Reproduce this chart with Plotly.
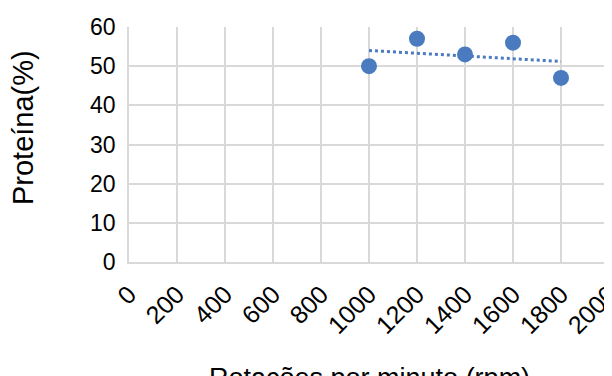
import numpy as np
import plotly.graph_objects as go

rpm = [1000, 1200, 1400, 1600, 1800]
proteina = [50, 57, 53, 56, 47]
x_ticks = [0, 200, 400, 600, 800, 1000, 1200, 1400, 1600, 1800, 2000]
y_ticks = [0, 10, 20, 30, 40, 50, 60]

blue = "#4a7bbf"
grid = "#d9d9d9"

slope, intercept = np.polyfit(rpm, proteina, 1)
trend_x = [min(rpm), max(rpm)]
trend_y = [slope * v + intercept for v in trend_x]

fig = go.Figure()
fig.add_trace(go.Scatter(x=trend_x, y=trend_y, mode="lines",
                         line=dict(color=blue, width=3, dash="dot"),
                         showlegend=False, hoverinfo="skip"))
fig.add_trace(go.Scatter(x=rpm, y=proteina, mode="markers",
                         marker=dict(color=blue, size=16),
                         showlegend=False))

font = "Liberation Sans, Arial, sans-serif"
fig.update_layout(
    width=604, height=368,
    margin=dict(l=121, r=3, t=19, b=114),
    paper_bgcolor="white", plot_bgcolor="white",
    font=dict(family=font, size=20, color="#000000"),
    xaxis=dict(range=[0, 2000], tickvals=x_ticks, ticktext=[str(v) for v in x_ticks],
               tickangle=-45, showgrid=True, gridcolor=grid, gridwidth=1.5,
               showline=True, linecolor=grid, linewidth=1.5, zeroline=False,
               ticks="", ticklabelstandoff=6, automargin=False,
               ticklabeloverflow="allow",
               tickfont=dict(family=font, size=25, color="#000")),
    yaxis=dict(range=[0, 60], tickvals=y_ticks, showgrid=True, gridcolor=grid,
               gridwidth=1.5, showline=True, linecolor=grid, linewidth=1.5,
               zeroline=False, ticks="", ticklabelstandoff=7, automargin=False,
               tickfont=dict(family=font, size=23, color="#000")),
    annotations=[
        dict(text="Rotações por minuto (rpm)", xref="paper", yref="paper",
             x=0.5, y=-0.495, yanchor="middle", showarrow=False,
             font=dict(family=font, size=27, color="#000")),
        dict(text="Proteína(%)", xref="paper", x=0, xshift=-106, yref="paper",
             y=0.57, xanchor="center", yanchor="middle", textangle=-90,
             showarrow=False,
             font=dict(family=font, size=29, color="#000")),
    ],
)
fig.write_html("out.html")
